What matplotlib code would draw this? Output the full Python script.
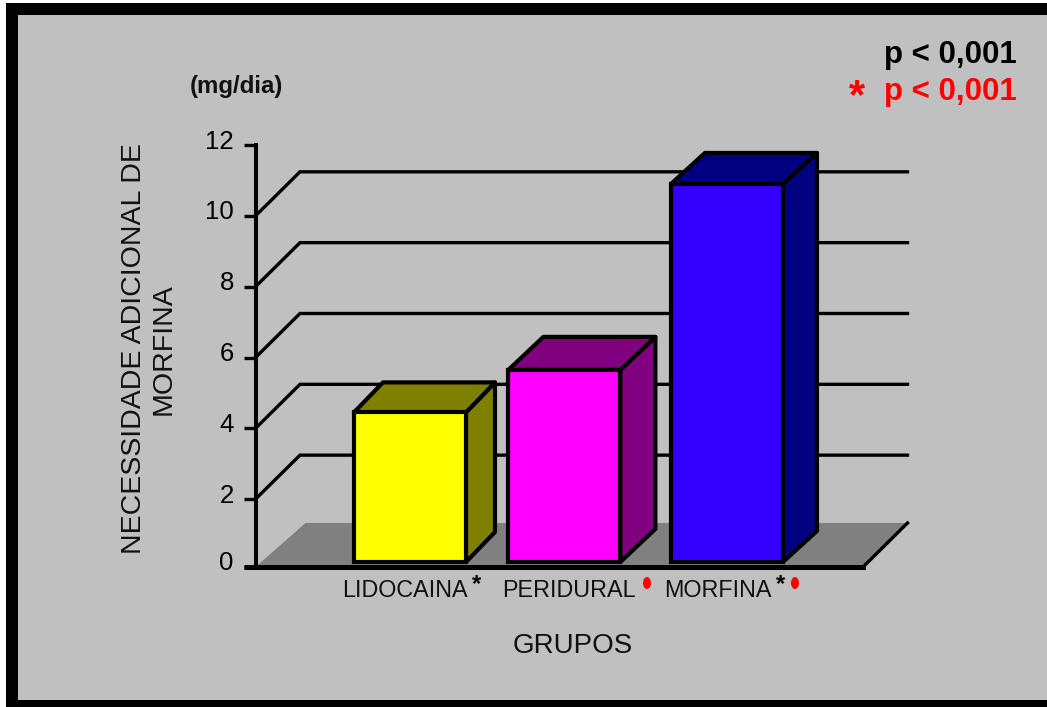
import numpy as np
import matplotlib
matplotlib.use('Agg')
import matplotlib.pyplot as plt
from matplotlib.patches import Polygon, Rectangle, Ellipse
from matplotlib.transforms import ScaledTranslation

plt.rcParams['font.family'] = ['Liberation Sans', 'DejaVu Sans']

grupos = ['LIDOCAINA', 'PERIDURAL', 'MORFINA']
necessidade = [4.45, 5.65, 10.9]
grid_values = [2, 4, 6, 8, 10]
y_ticks = [0, 2, 4, 6, 8, 10, 12]
front_colors = ['#ffff00', '#ff00ff', '#3300ff']
side_colors = ['#808000', '#800080', '#000080']

W, H = 1047, 707
BG = '#c0c0c0'


def px(x, y):
    # figure fraction from pixel position, origin top left
    return x / W, 1 - y / H


fig = plt.figure(figsize=(W / 100, H / 100), dpi=100, facecolor='white')

# outer panel with thick black frame, open on the right
fig.patches.append(Rectangle((0, 0), 1, 1, transform=fig.transFigure, fc='black', ec='none'))
x0, y0 = px(18, 700)
x1, y1 = px(W, 15)
fig.patches.append(Rectangle((x0, y0), x1 - x0, y1 - y0, transform=fig.transFigure, fc=BG, ec='none'))
fig.patches.append(Rectangle((0, 0), 6 / W, 1, transform=fig.transFigure, fc='white', ec='none'))
fig.patches.append(Rectangle((0, 1 - 3 / H), 1, 3 / H, transform=fig.transFigure, fc='white', ec='none'))

# axes spans the front plane: x in bar slots, y in mg/dia
left, top, right, bottom = 255.5, 145, 863, 567
ax = fig.add_axes([left / W, 1 - bottom / H, (right - left) / W, (bottom - top) / H])
ax.set_zorder(2)
ax.patch.set_alpha(0)
slot_px = 158.0
unit_px = 35.4
# the floor line sits slightly above the true zero of the scale
floor = 3 / unit_px
ax.set_xlim((left - 410) / slot_px, (right - 410) / slot_px)
ax.set_ylim(floor, 12)

# oblique depth of the back wall, in data units
wall_dx, wall_dy = 44.5 / slot_px, 44 / unit_px
bar_w = 112 / slot_px
base = 8 / unit_px

xmin, xmax = ax.get_xlim()

# floor
ax.add_patch(Polygon([(xmin, floor), (xmin + 50 / slot_px, floor + wall_dy),
                      (xmax + wall_dx, floor + wall_dy), (xmax, floor)],
                     fc='#808080', ec='none', zorder=1, clip_on=False))
ax.plot([xmax, xmax + wall_dx], [floor, floor + wall_dy], color='black', lw=2.4, zorder=1.5, clip_on=False)

# gridlines run along the side wall and then the back wall
for v in grid_values:
    ax.plot([xmin, xmin + wall_dx, xmax + wall_dx], [v, v + wall_dy, v + wall_dy],
            color='black', lw=2.4, zorder=2, clip_on=False, solid_joinstyle='miter')

# bars: front face from the values, side and top faces pushed back by the depth
x_pos = np.array([0, 0.977, 2.006])
depths = [(29, 30), (35, 33), (34, 31)]
ax.bar(x_pos, np.array(necessidade) - base, bottom=base, width=bar_w, color=front_colors,
       edgecolor='black', linewidth=3, zorder=5)
for x, v, c, (ddx, ddy) in zip(x_pos, necessidade, side_colors, depths):
    xl, xr = x - bar_w / 2, x + bar_w / 2
    dx, dy = ddx / slot_px, ddy / unit_px
    ax.add_patch(Polygon([(xr, base), (xr + dx, base + dy), (xr + dx, v + dy), (xr, v)],
                         fc=c, ec='black', lw=3, zorder=4, joinstyle='round'))
    ax.add_patch(Polygon([(xl, v), (xl + dx, v + dy), (xr + dx, v + dy), (xr, v)],
                         fc=c, ec='black', lw=3, zorder=4, joinstyle='round'))

# axis lines and ticks
for s in ['top', 'right']:
    ax.spines[s].set_visible(False)
ax.spines['left'].set_linewidth(2.9)
ax.spines['bottom'].set_linewidth(3.6)
ax.spines['bottom'].set_zorder(6)
ax.set_xticks([])
ax.set_yticks([floor] + y_ticks[1:], labels=y_ticks)
ax.tick_params(axis='y', length=8.6, width=2.4, pad=7, labelsize=18.5, colors='black')
# floor line carries on to the left as the zero tick
ax.plot([xmin - 12 / slot_px, xmin], [floor, floor], color='black', lw=3.6, clip_on=False,
        solid_capstyle='butt', zorder=6)
# numbers sit a little above their ticks
lift = ScaledTranslation(0, 6 / 100, fig.dpi_scale_trans)
for lbl in ax.get_yticklabels():
    lbl.set_transform(lbl.get_transform() + lift)

# category labels with significance marks
label_x = [342, 502, 664]
for x, g in zip(label_x, grupos):
    fig.text(*px(x, 597), g, fontsize=16.8, color='#111111', ha='left', va='baseline')
fig.text(*px(476, 591), '*', fontsize=17, fontweight='bold', ha='center', va='baseline')
fig.text(*px(780, 591), '*', fontsize=17, fontweight='bold', ha='center', va='baseline')
for x in [647, 795]:
    ex, ey = px(x, 583)
    fig.patches.append(Ellipse((ex, ey), 8 / W, 12 / H, transform=fig.transFigure, fc='#ff0000', ec='none'))

fig.text(*px(573, 653), 'GRUPOS', fontsize=20, color='#111111', ha='center', va='baseline')
fig.text(*px(190, 93), '(mg/dia)', fontsize=17.3, fontweight='bold', color='#111111', ha='left', va='baseline')
fig.text(*px(149, 349), 'NECESSIDADE ADICIONAL DE\nMORFINA', fontsize=20.5, color='#111111',
         rotation=90, ha='center', va='center', multialignment='center', linespacing=1.2)

# p values
fig.text(*px(1017, 63), 'p < 0,001', fontsize=22.5, fontweight='bold', color='black', ha='right', va='baseline')
fig.text(*px(1017, 100), 'p < 0,001', fontsize=22.5, fontweight='bold', color='#ff0000', ha='right', va='baseline')
fig.text(*px(857, 108), '*', fontsize=30, fontweight='bold', color='#ff0000', ha='center', va='baseline')

fig.savefig('out.png', dpi=100, facecolor=fig.get_facecolor())
